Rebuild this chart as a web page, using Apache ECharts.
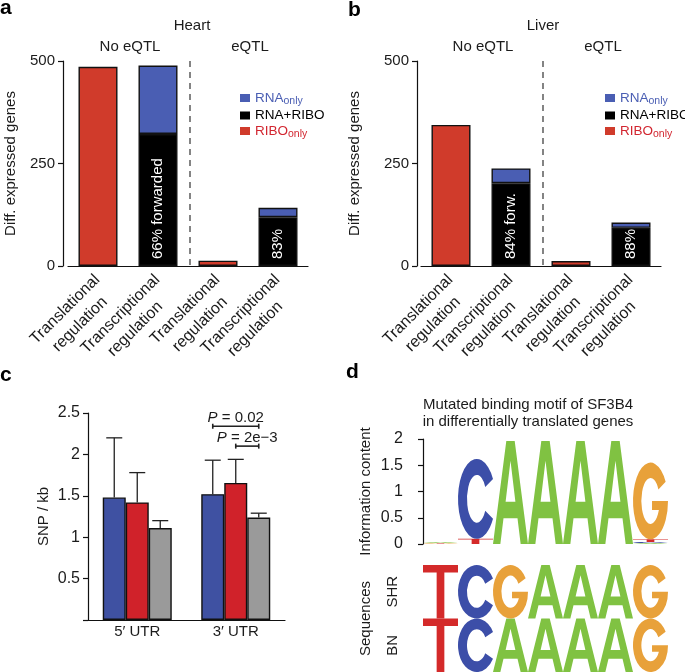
<!DOCTYPE html>
<html><head><meta charset="utf-8">
<script src="https://cdn.jsdelivr.net/npm/echarts@6/dist/echarts.min.js"></script>
<style>html,body{margin:0;padding:0;background:#fff}#c{width:685px;height:672px}</style>
</head><body><div id="c"></div><script>
// ---------- data: panels a & b ----------
const regCategories = ['Translational\nregulation', 'Transcriptional\nregulation', 'Translational\nregulation', 'Transcriptional\nregulation'];
const groupBoundaryAfter = [1];   // dashed separator between "No eQTL" and "eQTL" categories
const heartRiboOnly = [486, '-', 13, '-'];
const heartRnaRibo = ['-', 322, '-', 119];
const heartRnaOnly = ['-', 167, '-', 23];
const heartBarText = ['', '66% forwarded', '', '83%'];
const liverRiboOnly = [344, '-', 12, '-'];
const liverRnaRibo = ['-', 202, '-', 93];
const liverRnaOnly = ['-', 36, '-', 13];
const liverBarText = ['', '84% forw.', '', '88%'];

// ---------- data: panel c ----------
const utrCategories = ['5\u2032 UTR', '3\u2032 UTR'];
const snpBlue = [1.48, 1.52];
const snpBlueUpper = [2.20, 1.93];
const snpRed = [1.42, 1.655];
const snpRedUpper = [1.78, 1.94];
const snpGray = [1.11, 1.237];
const snpGrayUpper = [1.20, 1.29];
const pValueText = ['0.02', '2e\u22123'];
const pCategory = [1, 1];
const pFromBar = [0, 1];
const pToBar = [2, 2];
const pLevel = [2.34, 2.10];

// ---------- data: panel d ----------
const logoLetters = ['A', 'C', 'G', 'T'];
const logoA = [0.02, 0, 1.96, 1.96, 1.96, 1.96, 0.02];
const logoC = [0, 1.52, 0, 0, 0, 0, 0.02];
const logoG = [0.01, 0, 0, 0, 0, 0, 1.46];
const logoT = [0.01, 0.10, 0, 0, 0, 0, 0.05];
const seqRows = ['BN', 'SHR'];
const seqBN = ['T', 'C', 'A', 'A', 'A', 'A', 'G'];
const seqSHR = ['T', 'C', 'G', 'A', 'A', 'A', 'G'];

// ---------- styling ----------
const FONT = '"Liberation Sans", Arial, Helvetica, sans-serif';
const INK = '#1b1b1b';
const RED = '#D03B2B', BLUE = '#4A5EB3', BLACK = '#000';
const C_BLUE = '#3F51A2', C_RED = '#D0222A', C_GRAY = '#9A9A9A';
const LETTER_COLOR = { A: '#80C242', C: '#3C4EA8', G: '#E8A13A', T: '#D42A2A' };
const LETTER_PATH = {
  A: 'M0,100 L38,0 L62,0 L100,100 L79,100 L70,75 L30,75 L21,100 Z M36,59 L64,59 L50,19 Z',
  C: 'M89.8,25 A46,50 0 1 0 89.8,75 L70.8,65 A24,30 0 1 1 70.8,35 Z',
  G: 'M89.8,25 A46,50 0 1 0 96,50 L54,50 L54,62 L72,62 A24,30 0 1 1 70.8,35 Z',
  T: 'M0,0 L100,0 L100,14 L61,14 L61,100 L39,100 L39,14 L0,14 Z'
};
const BARW_C = 23;

function letterShape(L, x, y, w, h) {
  return { type: 'path', shape: { pathData: LETTER_PATH[L], x: x, y: y, width: w, height: h, layout: 'cover' }, style: { fill: LETTER_COLOR[L] } };
}

const axisLineStyle = { color: '#111', width: 1.2 };
function abXAxis(grid) {
  return {
    gridIndex: grid, type: 'category', data: regCategories,
    axisTick: { show: false }, axisLine: { show: true, lineStyle: axisLineStyle },
    axisLabel: { interval: 0, rotate: 45, margin: 12, padding: [19, 0, 0, 0], fontSize: 16, color: INK, fontFamily: FONT,
      formatter: function (v) { return v.split('\n').map(function (s) { return '{c|' + s + '}'; }).join('\n'); },
      rich: { c: { align: 'center', fontSize: 16, lineHeight: 21, color: INK, fontFamily: FONT } } },
    splitLine: { show: false }
  };
}
function abYAxis(grid, offset, gap) {
  return {
    gridIndex: grid, type: 'value', min: 0, max: 500, interval: 250, offset: offset,
    axisLine: { show: true, lineStyle: axisLineStyle }, axisTick: { show: true, length: 5, lineStyle: axisLineStyle },
    splitLine: { show: false },
    axisLabel: { fontSize: 15, color: INK, fontFamily: FONT, margin: 8 },
    name: 'Diff. expressed genes', nameLocation: 'middle', nameGap: gap,
    nameTextStyle: { fontSize: 15, color: INK, fontFamily: FONT }
  };
}
function stackSeries(grid, ribo, both, rna, texts) {
  const bs = { borderColor: '#111', borderWidth: 1.4 };
  return [
    { type: 'bar', name: 'RIBO_only', xAxisIndex: grid, yAxisIndex: grid, stack: 's' + grid, data: ribo, barWidth: 39, itemStyle: Object.assign({ color: RED }, bs) },
    { type: 'bar', name: 'RNA+RIBO', xAxisIndex: grid, yAxisIndex: grid, stack: 's' + grid, data: both, barWidth: 39, itemStyle: Object.assign({ color: BLACK }, bs),
      label: { show: true, position: 'insideBottom', rotate: 90, align: 'left', verticalAlign: 'middle', distance: 7, color: '#fff', fontSize: 15, fontFamily: FONT,
        formatter: function (p) { return texts[p.dataIndex]; } } },
    { type: 'bar', name: 'RNA_only', xAxisIndex: grid, yAxisIndex: grid, stack: 's' + grid, data: rna, barWidth: 39, itemStyle: Object.assign({ color: BLUE }, bs) },
    { type: 'custom', name: 'sep' + grid, xAxisIndex: grid, yAxisIndex: grid, data: groupBoundaryAfter.map(function (i) { return [i, 500]; }), encode: { x: 0, y: 1 },
      renderItem: function (params, api) {
        const top = api.coord([api.value(0), api.value(1)]);
        const bot = api.coord([api.value(0), 0]);
        const x = top[0] + api.size([1, 0])[0] / 2 + 2;
        return { type: 'line', shape: { x1: x, y1: top[1], x2: x, y2: bot[1] }, style: { stroke: '#333', lineWidth: 1.2, lineDash: [6, 5] } };
      } }
  ];
}
function legendFor(left) {
  return {
    data: ['RNA_only', 'RNA+RIBO', 'RIBO_only'], orient: 'vertical', left: left, top: 91, padding: 0,
    itemWidth: 10, itemHeight: 8, itemGap: 1.5, icon: 'rect', selectedMode: false,
    itemStyle: { borderWidth: 0 },
    formatter: function (n) {
      if (n === 'RNA_only') return '{b|RNA}{bs|only}';
      if (n === 'RIBO_only') return '{r|RIBO}{rs|only}';
      return '{k|RNA+RIBO}';
    },
    textStyle: { fontSize: 13, fontFamily: FONT, rich: {
      b: { color: BLUE, fontSize: 13.5, lineHeight: 18, verticalAlign: 'middle', fontFamily: FONT },
      bs: { color: BLUE, fontSize: 10.5, lineHeight: 18, verticalAlign: 'bottom', fontFamily: FONT },
      r: { color: '#D22630', fontSize: 13.5, lineHeight: 18, verticalAlign: 'middle', fontFamily: FONT },
      rs: { color: '#D22630', fontSize: 10.5, lineHeight: 18, verticalAlign: 'bottom', fontFamily: FONT },
      k: { color: '#000', fontSize: 13.5, lineHeight: 18, verticalAlign: 'middle', fontFamily: FONT }
    } }
  };
}

// panel c helpers
const snpValues = [snpBlue, snpRed, snpGray];
const snpUppers = [snpBlueUpper, snpRedUpper, snpGrayUpper];
const errData = [];
snpValues.forEach(function (arr, s) { arr.forEach(function (v, i) { errData.push([i, s, v, snpUppers[s][i]]); }); });
const bracketData = pValueText.map(function (t, i) { return [pCategory[i], pFromBar[i], pToBar[i], pLevel[i], i]; });

// panel d helpers
const logoData = [];
for (let c = 0; c < logoA.length; c++) {
  const stack = [logoA, logoC, logoG, logoT].map(function (arr, k) { return { k: k, h: arr[c] }; })
    .filter(function (o) { return o.h > 0; }).sort(function (a, b) { return a.h - b.h; });
  let base = 0;
  stack.forEach(function (o) { logoData.push([c, base, base + o.h, o.k]); base += o.h; });
}
const seqData = [];
[seqBN, seqSHR].forEach(function (row, r) { row.forEach(function (L, c) { seqData.push([c, r, logoLetters.indexOf(L)]); }); });

function txt(x, y, text, opt) {
  opt = opt || {};
  return { type: 'text', x: x, y: y, silent: true, style: Object.assign({
    text: text, fill: INK, fontSize: 15, fontFamily: FONT,
    align: 'center', textAlign: 'center', verticalAlign: 'middle', textVerticalAlign: 'middle'
  }, opt) };
}

const chart = echarts.init(document.getElementById('c'), null, { renderer: 'canvas', width: 685, height: 672 });
chart.setOption({
  backgroundColor: '#fff',
  animation: false,
  textStyle: { fontFamily: FONT },
  legend: [legendFor(240), legendFor(605)],
  grid: [
    { left: 68, top: 61, width: 240, height: 205, outerBoundsMode: 'none' },
    { left: 421, top: 61, width: 240, height: 205, outerBoundsMode: 'none' },
    { left: 88, top: 413, width: 197, height: 207, outerBoundsMode: 'none' },
    { left: 423, top: 439, width: 245, height: 105, outerBoundsMode: 'none' },
    { left: 423, top: 565, width: 245, height: 107, outerBoundsMode: 'none' }
  ],
  xAxis: [
    abXAxis(0), abXAxis(1),
    { gridIndex: 2, type: 'category', data: utrCategories, axisTick: { show: false }, axisLine: { show: true, lineStyle: axisLineStyle },
      axisLabel: { fontSize: 15, margin: 4, color: INK, fontFamily: FONT }, splitLine: { show: false } },
    { gridIndex: 3, type: 'value', min: 0, max: 7, show: false },
    { gridIndex: 4, type: 'value', min: 0, max: 7, show: false }
  ],
  yAxis: [
    abYAxis(0, 5, 45), abYAxis(1, 4, 55),
    { gridIndex: 2, type: 'value', min: 0, max: 2.5, interval: 0.5,
      axisLine: { show: true, lineStyle: axisLineStyle }, axisTick: { show: true, length: 5, lineStyle: axisLineStyle }, splitLine: { show: false },
      axisLabel: { fontSize: 16, color: INK, fontFamily: FONT, margin: 8, formatter: function (v) { return v === 0 ? '' : String(v); } },
      name: 'SNP / kb', nameLocation: 'middle', nameGap: 37, nameTextStyle: { fontSize: 15, color: INK, fontFamily: FONT } },
    { gridIndex: 3, type: 'value', min: 0, max: 2, interval: 0.5, offset: 13,
      axisLine: { show: true, lineStyle: axisLineStyle }, axisTick: { show: true, length: 5, lineStyle: axisLineStyle }, splitLine: { show: false },
      axisLabel: { fontSize: 16, color: INK, fontFamily: FONT, margin: 7 },
      name: 'Information content', nameLocation: 'middle', nameGap: 37, nameTextStyle: { fontSize: 15, color: INK, fontFamily: FONT } },
    { gridIndex: 4, type: 'category', data: seqRows,
      axisLine: { show: false }, axisTick: { show: false }, splitLine: { show: false },
      axisLabel: { rotate: 90, fontSize: 15, color: INK, fontFamily: FONT, margin: 23 },
      name: 'Sequences', nameLocation: 'middle', nameGap: 50, nameTextStyle: { fontSize: 15, color: INK, fontFamily: FONT } }
  ],
  series: [].concat(
    stackSeries(0, heartRiboOnly, heartRnaRibo, heartRnaOnly, heartBarText),
    stackSeries(1, liverRiboOnly, liverRnaRibo, liverRnaOnly, liverBarText),
    [
      { type: 'bar', name: 'c_blue', xAxisIndex: 2, yAxisIndex: 2, data: snpBlue, barWidth: BARW_C, barGap: '0%', itemStyle: { color: C_BLUE, borderColor: '#111', borderWidth: 1.4 } },
      { type: 'bar', name: 'c_red', xAxisIndex: 2, yAxisIndex: 2, data: snpRed, barWidth: BARW_C, barGap: '0%', itemStyle: { color: C_RED, borderColor: '#111', borderWidth: 1.4 } },
      { type: 'bar', name: 'c_gray', xAxisIndex: 2, yAxisIndex: 2, data: snpGray, barWidth: BARW_C, barGap: '0%', itemStyle: { color: C_GRAY, borderColor: '#111', borderWidth: 1.4 } },
      { type: 'custom', name: 'c_err', xAxisIndex: 2, yAxisIndex: 2, data: errData, encode: { x: 0, y: 3 }, z: 3,
        renderItem: function (params, api) {
          const cat = api.value(0), s = api.value(1);
          const base = api.coord([cat, api.value(2)]);
          const top = api.coord([cat, api.value(3)]);
          const x = base[0] + (s - 1) * BARW_C;
          const ls = { stroke: '#222', lineWidth: 1.3 };
          return { type: 'group', children: [
            { type: 'line', shape: { x1: x, y1: base[1], x2: x, y2: top[1] }, style: ls },
            { type: 'line', shape: { x1: x - 8, y1: top[1], x2: x + 8, y2: top[1] }, style: ls }
          ] };
        } },
      { type: 'custom', name: 'c_p', xAxisIndex: 2, yAxisIndex: 2, data: bracketData, encode: { x: 0, y: 3 }, z: 3,
        renderItem: function (params, api) {
          const cat = api.value(0), f = api.value(1), t = api.value(2), idx = api.value(4);
          const p = api.coord([cat, api.value(3)]);
          const x1 = p[0] + (f - 1) * BARW_C, x2 = p[0] + (t - 1) * BARW_C, y = p[1];
          const ls = { stroke: '#222', lineWidth: 1.6 };
          return { type: 'group', children: [
            { type: 'line', shape: { x1: x1, y1: y, x2: x2, y2: y }, style: ls },
            { type: 'line', shape: { x1: x1, y1: y - 2.5, x2: x1, y2: y + 2.5 }, style: ls },
            { type: 'line', shape: { x1: x2, y1: y - 2.5, x2: x2, y2: y + 2.5 }, style: ls },
            { type: 'text', x: (x1 + x2) / 2, y: y - 1, style: {
              text: '{i|P} = ' + pValueText[idx], fill: INK, fontSize: 15, fontFamily: FONT,
              align: 'center', textAlign: 'center', verticalAlign: 'bottom', textVerticalAlign: 'bottom',
              rich: { i: { fontStyle: 'italic', fontSize: 15, fontFamily: FONT, fill: INK } } } }
          ] };
        } },
      { type: 'custom', name: 'logo', xAxisIndex: 3, yAxisIndex: 3, data: logoData, encode: { x: 0, y: [1, 2] },
        renderItem: function (params, api) {
          const c = api.value(0), lo = api.value(1), hi = api.value(2), k = api.value(3);
          const p0 = api.coord([c, hi]), p1 = api.coord([c + 1, lo]);
          return letterShape(logoLetters[k], p0[0], p0[1], p1[0] - p0[0], Math.max(p1[1] - p0[1], 0.6));
        } },
      { type: 'custom', name: 'seq', xAxisIndex: 4, yAxisIndex: 4, data: seqData, encode: { x: 0, y: 1 },
        renderItem: function (params, api) {
          const c = api.value(0), r = api.value(1), k = api.value(2);
          const p = api.coord([c, r]);
          const w = api.size([1, 0])[0], h = api.size([0, 1])[1];
          return letterShape(logoLetters[k], p[0], p[1] - h / 2, w, h);
        } }
    ]
  ),
  graphic: [
    txt(0, 8, 'a', { fontSize: 21, fontWeight: 'bold', align: 'left', textAlign: 'left', fill: '#000' }),
    txt(348, 10, 'b', { fontSize: 21, fontWeight: 'bold', align: 'left', textAlign: 'left', fill: '#000' }),
    txt(0, 375, 'c', { fontSize: 21, fontWeight: 'bold', align: 'left', textAlign: 'left', fill: '#000' }),
    txt(346, 372, 'd', { fontSize: 21, fontWeight: 'bold', align: 'left', textAlign: 'left', fill: '#000' }),
    txt(192, 26, 'Heart'), txt(130, 47, 'No eQTL'), txt(250, 47, 'eQTL'),
    txt(543, 26, 'Liver'), txt(483, 47, 'No eQTL'), txt(603, 47, 'eQTL'),
    txt(528, 413, 'Mutated binding motif of SF3B4\nin differentially translated genes', { lineHeight: 17 })
  ]
});
</script></body></html>
